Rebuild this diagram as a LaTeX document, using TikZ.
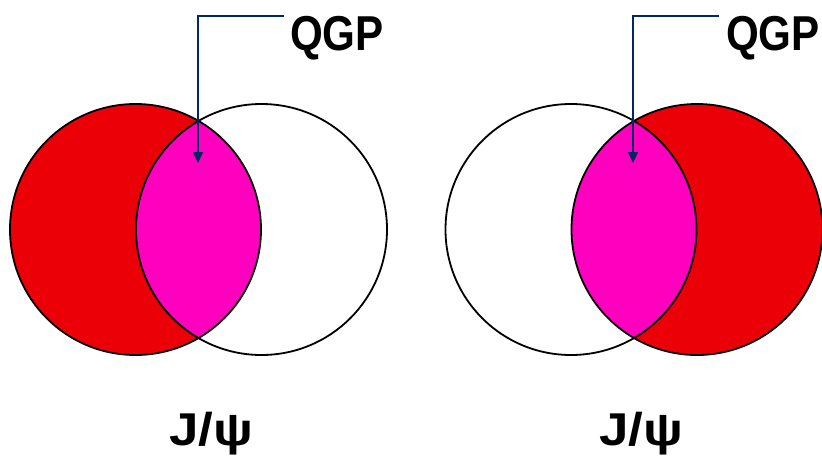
\documentclass[tikz,border=0pt]{standalone}
\usepackage{fontspec}
\setmainfont{Liberation Sans}
\usetikzlibrary{arrows.meta}
\definecolor{nucred}{RGB}{236,0,8}
\definecolor{qgppink}{RGB}{255,0,191}
\definecolor{pointnavy}{RGB}{0,40,100}

\begin{document}
\begin{tikzpicture}[x=1pt,y=-1pt,
    ring/.style={draw=black, line width=1.8pt},
    pointer/.style={draw=pointnavy, line width=1.6pt, -{Triangle[length=11pt,width=10pt]}},
    biglabel/.style={font=\bfseries\fontsize{49}{49}\selectfont, inner sep=0pt},
    sublabel/.style={font=\bfseries\fontsize{46}{46}\selectfont, inner sep=0pt}]
    \useasboundingbox (0,0) rectangle (822,458);

    % Left pair: red nucleus on the left
    \fill[nucred] (135.5,229.5) circle[radius=125.5];
    \begin{scope}
        \clip (261.5,229.5) circle[radius=125.5];
        \fill[qgppink] (135.5,229.5) circle[radius=125.5];
    \end{scope}
    \draw[ring] (135.5,229.5) circle[radius=125.5];
    \draw[ring] (261.5,229.5) circle[radius=125.5];

    % Right pair: red nucleus on the right
    \fill[nucred] (697,229.5) circle[radius=125.5];
    \begin{scope}
        \clip (571,229.5) circle[radius=125.5];
        \fill[qgppink] (697,229.5) circle[radius=125.5];
    \end{scope}
    \draw[ring] (571,229.5) circle[radius=125.5];
    \draw[ring] (697,229.5) circle[radius=125.5];

    % Labels
    \node[biglabel, anchor=base west] (qgpL) at (290,50) {\scalebox{0.86}[1]{QGP}};
    \node[biglabel, anchor=base west] (qgpR) at (726,50) {\scalebox{0.86}[1]{QGP}};
    \node[sublabel, anchor=base] (jpsiL) at (211,445) {\scalebox{1.15}[1]{J/ψ}};
    \node[sublabel, anchor=base] (jpsiR) at (641,445) {\scalebox{1.15}[1]{J/ψ}};

    % Pointers into the overlap
    \coordinate (startL) at (284,16);
    \coordinate (tipL) at (198,163);
    \coordinate (startR) at (719,16);
    \coordinate (tipR) at (633,163);
    \draw[pointer] (startL) -| (tipL);
    \draw[pointer] (startR) -| (tipR);
\end{tikzpicture}
\end{document}
